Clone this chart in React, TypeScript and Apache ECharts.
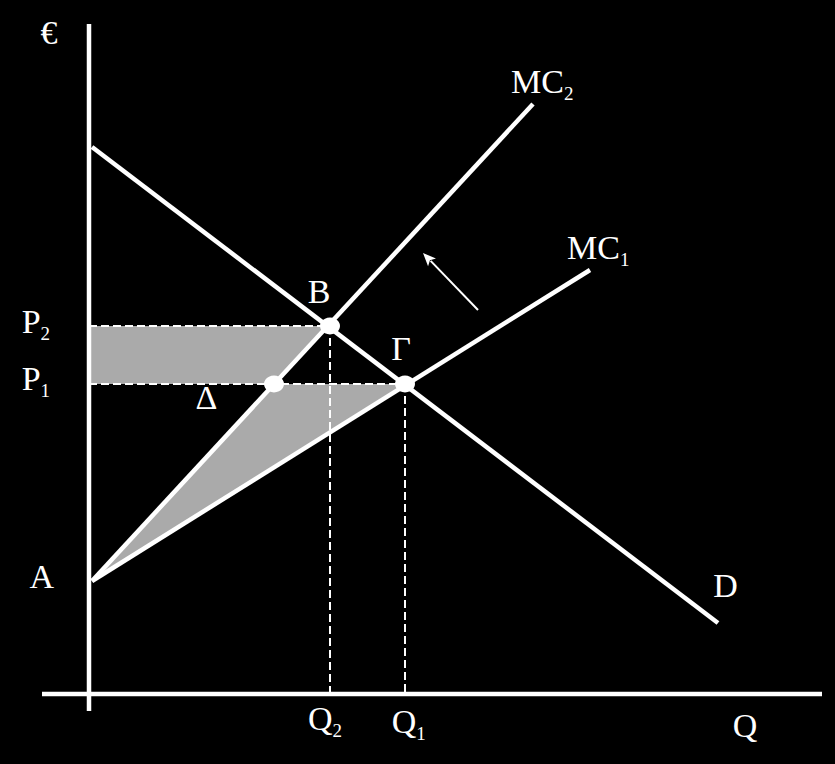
import React, { useEffect, useRef } from "react";
import * as echarts from "echarts";

// Axis frame (economic units: quantity on x, price on y)
const yAxisLine: number[][] = [[0, 67.0], [0, -1.7]];
const xAxisLine: number[][] = [[-4.7, 0], [73.3, 0]];

// Curves
const demandD: number[][] = [[0.3, 54.7], [62.9, 7.1]];
const mc1: number[][] = [[0.3, 11.3], [50.1, 42.4]];
const mc2: number[][] = [[0.3, 11.3], [44.4, 59.0]];

// Key values
const P1 = 31.0;
const P2 = 36.8;
const Q1 = 31.6;
const Q2 = 24.1;
const qDelta = 18.5;
const pointA: number[] = [0.3, 11.3];
const pointB: number[] = [Q2, P2];
const pointGamma: number[] = [Q1, P1];
const pointDelta: number[] = [qDelta, P1];

// Arrow (tail -> head)
const arrowTail: number[] = [38.9, 38.4];
const arrowHead: number[] = [33.4, 44.1];

// Shaded areas
const shadedAreas: number[][][] = [
  [[0, P2], [Q2, P2], [qDelta, P1], [0, P1]],
  [pointA, pointDelta, pointGamma],
];

// Dashed guides
const dashedGuides: number[][][] = [
  [[0, P2], pointB],
  [[0, P1], pointGamma],
  [pointB, [Q2, 0]],
  [pointGamma, [Q1, 0]],
];

// Labels
const labelTexts: string[] = ["€", "MC", "MC", "B", "Γ", "Δ", "P", "P", "A", "D", "Q", "Q", "Q"];
const labelSubs: string[] = ["", "2", "1", "", "", "", "2", "1", "", "", "", "2", "1"];
const labelQ: number[] = [-4.0, 42.2, 47.8, 23.0, 31.2, 11.75, -6.73, -6.73, -4.73, 63.65, 65.6, 21.9, 30.27];
const labelP: number[] = [66.2, 61.3, 44.7, 40.3, 34.6, 29.65, 37.3, 31.6, 11.8, 10.9, -3.1, -2.4, -2.75];
const labelAlign: string[] = ["center", "left", "left", "center", "center", "center", "left", "left", "center", "center", "center", "left", "left"];

const FONT = "Liberation Serif";

export default function App() {
  const ref = useRef<HTMLDivElement>(null);

  useEffect(() => {
    if (!ref.current) return;
    const chart = echarts.init(ref.current, null, { renderer: "svg" });

    const whiteLine = (name: string, data: number[][], width = 4.5) => ({
      name,
      type: "line",
      data,
      symbol: "none",
      z: 5,
      lineStyle: { color: "#ffffff", width, cap: "butt" },
      silent: true,
    });

    const labelData = labelTexts.map((t, i) => ({
      value: [labelQ[i], labelP[i]],
      main: t,
      sub: labelSubs[i],
      label: { align: labelAlign[i] },
    }));

    const option: any = {
      animation: false,
      backgroundColor: "#000000",
      grid: { left: 0, right: 0, top: 0, bottom: 0 },
      xAxis: { type: "value", min: -8.9, max: 74.6, show: false, splitLine: { show: false } },
      yAxis: { type: "value", min: -7.0, max: 69.4, show: false, splitLine: { show: false } },
      series: [
        {
          name: "shade",
          type: "custom",
          z: 1,
          silent: true,
          data: shadedAreas.map((_, i) => [i]),
          renderItem: (params: any, api: any) => {
            const poly = shadedAreas[params.dataIndex];
            return {
              type: "polygon",
              shape: { points: poly.map((p) => api.coord(p)) },
              style: { fill: "#aaaaaa" },
            };
          },
        },
        ...dashedGuides.map((g, i) => ({
          name: "guide" + i,
          type: "line",
          data: g,
          symbol: "none",
          z: 3,
          silent: true,
          lineStyle: { color: "#ffffff", width: 2, type: [8, 4] },
        })),
        whiteLine("yaxis", yAxisLine),
        whiteLine("xaxis", xAxisLine),
        whiteLine("D", demandD),
        whiteLine("MC1", mc1),
        whiteLine("MC2", mc2),
        {
          name: "arrow",
          type: "custom",
          z: 6,
          silent: true,
          data: [[0]],
          renderItem: (_params: any, api: any) => {
            const a = api.coord(arrowTail);
            const b = api.coord(arrowHead);
            const dx = b[0] - a[0];
            const dy = b[1] - a[1];
            const len = Math.sqrt(dx * dx + dy * dy);
            const ux = dx / len;
            const uy = dy / len;
            const hl = 13;
            const hw = 5.5;
            const bx = b[0] - ux * hl;
            const by = b[1] - uy * hl;
            return {
              type: "group",
              children: [
                {
                  type: "line",
                  shape: { x1: a[0], y1: a[1], x2: bx + ux * 2, y2: by + uy * 2 },
                  style: { stroke: "#ffffff", lineWidth: 2 },
                },
                {
                  type: "polygon",
                  shape: {
                    points: [
                      [b[0], b[1]],
                      [bx - uy * hw, by + ux * hw],
                      [bx + ux * 3, by + uy * 3],
                      [bx + uy * hw, by - ux * hw],
                    ],
                  },
                  style: { fill: "#ffffff" },
                },
              ],
            };
          },
        },
        {
          name: "points",
          type: "scatter",
          z: 8,
          silent: true,
          symbol: "circle",
          symbolSize: [20, 17],
          itemStyle: { color: "#ffffff", opacity: 1 },
          data: [pointB, pointGamma, pointDelta],
        },
        {
          name: "labels",
          type: "scatter",
          z: 9,
          silent: true,
          symbolSize: 0,
          itemStyle: { color: "#000000", opacity: 1 },
          data: labelData,
          label: {
            show: true,
            position: [0, 0],
            verticalAlign: "middle",
            color: "#ffffff",
            opacity: 1,
            fontFamily: FONT,
            formatter: (p: any) =>
              p.data.sub ? `{m|${p.data.main}}{s|${p.data.sub}}` : `{m|${p.data.main}}`,
            rich: {
              m: { fontSize: 34, fontFamily: FONT, color: "#ffffff", lineHeight: 43 },
              s: { fontSize: 19, fontFamily: FONT, color: "#ffffff", lineHeight: 19, verticalAlign: "bottom" },
            },
          },
        },
      ],
    };

    chart.setOption(option);
    return () => chart.dispose();
  }, []);

  return (
    <div
      ref={ref}
      style={{ position: "absolute", left: 0, top: 0, width: 835, height: 764 }}
    />
  );
}
